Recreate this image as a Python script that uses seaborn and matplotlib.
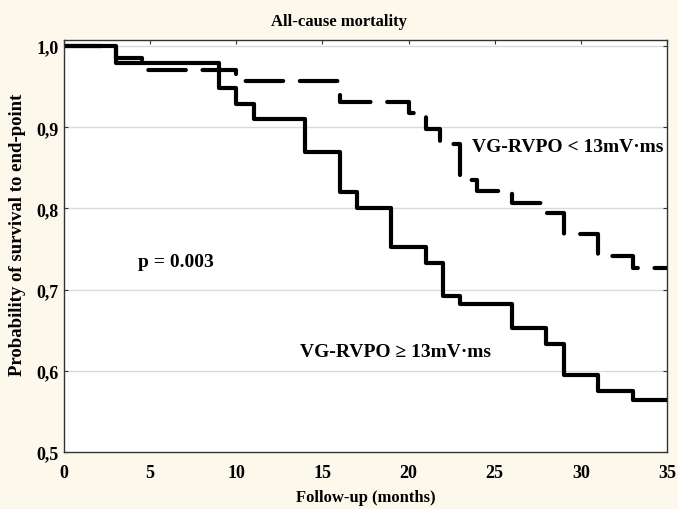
import pandas as pd
import matplotlib
matplotlib.use("Agg")
import matplotlib.pyplot as plt
import seaborn as sns

# Kaplan-Meier step curves
months_high = [0, 3, 9, 10, 11, 14, 16, 17, 19, 21, 22, 23, 26, 28, 29, 31, 33, 35]
surv_high = [1.0, 0.979, 0.948, 0.929, 0.910, 0.870, 0.820, 0.801, 0.752, 0.733,
             0.692, 0.682, 0.653, 0.633, 0.595, 0.575, 0.564, 0.564]

months_low = [0, 3, 4.5, 10, 16, 20, 21, 21.8, 23, 24, 26, 28, 29, 31, 33, 35]
surv_low = [1.0, 0.985, 0.971, 0.957, 0.931, 0.918, 0.898, 0.879, 0.835, 0.821,
            0.807, 0.795, 0.768, 0.741, 0.727, 0.727]

x_ticks = [0, 5, 10, 15, 20, 25, 30, 35]
y_ticks = [0.5, 0.6, 0.7, 0.8, 0.9, 1.0]
y_tick_labels = ["0,5", "0,6", "0,7", "0,8", "0,9", "1,0"]

df_high = pd.DataFrame({"month": months_high, "surv": surv_high})
df_low = pd.DataFrame({"month": months_low, "surv": surv_low})

sns.set_style("white")
plt.rcParams["font.family"] = ["Liberation Serif", "DejaVu Serif"]
plt.rcParams["font.weight"] = "bold"
for key in ["text.color", "axes.labelcolor", "xtick.color", "ytick.color"]:
    plt.rcParams[key] = "black"

bg = "#fdf8ec"
fig = plt.figure(figsize=(6.78, 5.1), dpi=100, facecolor=bg)
ax = fig.add_axes([0.0944, 0.1118, 0.8894, 0.8078])
ax.set_facecolor("white")

# light horizontal grid
for y in y_ticks[1:]:
    ax.axhline(y, color="#dadada", lw=1, zorder=0)

sns.lineplot(data=df_low, x="month", y="surv", ax=ax, color="black",
             drawstyle="steps-post", lw=3.0, linestyle=(0, (9, 4)),
             dash_capstyle="round", estimator=None, sort=False)
sns.lineplot(data=df_high, x="month", y="surv", ax=ax, color="black",
             drawstyle="steps-post", lw=3.0, estimator=None, sort=False)

ax.set_xlim(0, 35)
ax.set_ylim(0.5, 1.0075)
ax.set_xticks(x_ticks)
ax.set_yticks(y_ticks)
ax.set_yticklabels(y_tick_labels)
ax.tick_params(direction="in", length=3, width=0.8, labelsize=13,
               top=True, right=True, bottom=False, left=True, color="#333333")
ax.tick_params(axis="x", pad=8.5)
ax.tick_params(axis="y", pad=4)
for lab in ax.get_xticklabels() + ax.get_yticklabels():
    lab.set_fontweight("bold")
for s in ax.spines.values():
    s.set_color("#333333")
    s.set_linewidth(1.0)

ax.set_xlabel("Follow-up (months)", fontsize=12, fontweight="bold", labelpad=6)
ax.set_ylabel("Probability of survival to end-point", fontsize=13.5,
              fontweight="bold")
ax.yaxis.set_label_coords(-0.063, 0.53)
fig.text(0.5, 0.957, "All-cause mortality", ha="center", va="center",
         fontsize=12, fontweight="bold")

ax.text(23.7, 0.876, "VG-RVPO < 13mV·ms", fontsize=14, fontweight="bold", va="center")
ax.text(4.3, 0.735, "p = 0.003", fontsize=14, fontweight="bold", va="center")
ax.text(13.7, 0.624, "VG-RVPO ≥ 13mV·ms", fontsize=14, fontweight="bold", va="center")

fig.savefig("out.png", dpi=100, facecolor=bg)
